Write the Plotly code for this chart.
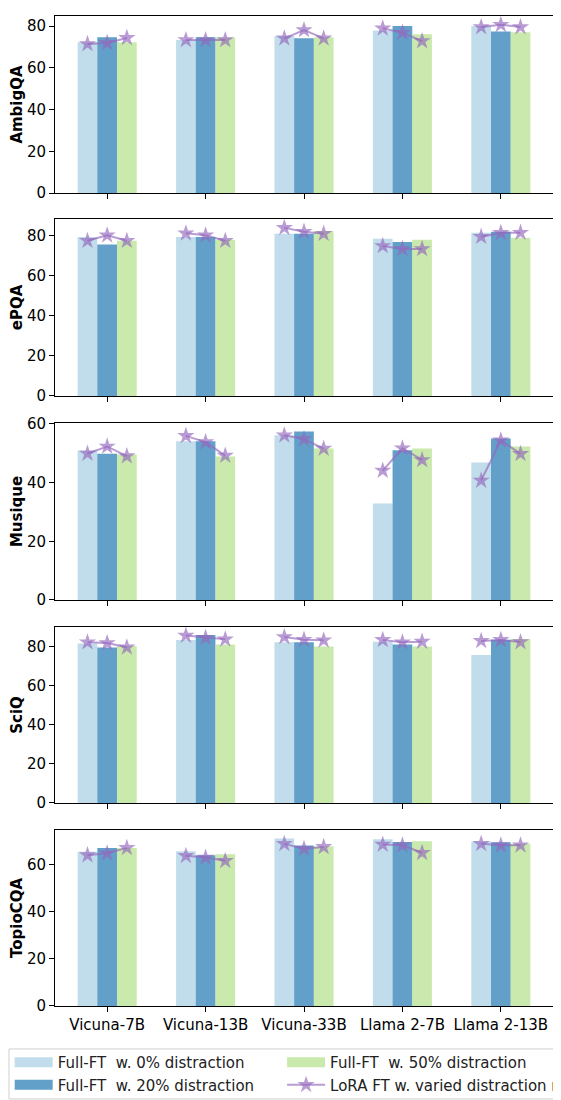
import plotly.graph_objects as go
from plotly.subplots import make_subplots

models = ["Vicuna-7B", "Vicuna-13B", "Vicuna-33B", "Llama 2-7B", "Llama 2-13B"]
datasets = ["AmbigQA", "ePQA", "Musique", "SciQ", "TopioCQA"]

# Full-FT with 0% distraction
ft0 = {
    "AmbigQA": [72.2, 73.3, 75.2, 77.9, 80.0],
    "ePQA": [79.2, 79.2, 80.8, 78.3, 81.3],
    "Musique": [50.9, 54.1, 56.1, 32.9, 46.8],
    "SciQ": [81.7, 83.6, 82.4, 82.7, 75.9],
    "TopioCQA": [65.5, 65.8, 71.2, 70.9, 69.9],
}
# Full-FT with 20% distraction
ft20 = {
    "AmbigQA": [74.6, 74.6, 74.1, 80.0, 77.4],
    "ePQA": [75.4, 79.2, 80.8, 76.7, 81.8],
    "Musique": [49.8, 54.1, 57.4, 51.0, 55.0],
    "SciQ": [79.7, 86.1, 82.4, 81.2, 83.7],
    "TopioCQA": [67.1, 64.1, 68.2, 69.7, 69.6],
}
# Full-FT with 50% distraction
ft50 = {
    "AmbigQA": [72.2, 74.5, 74.6, 76.0, 77.0],
    "ePQA": [77.3, 77.8, 82.2, 77.8, 78.8],
    "Musique": [49.6, 48.9, 51.6, 51.6, 52.3],
    "SciQ": [80.5, 81.2, 80.2, 80.2, 84.1],
    "TopioCQA": [67.1, 64.5, 67.9, 70.0, 68.9],
}
# LoRA FT: (0%, 20%, 50%) per model
lora = {
    "AmbigQA": [[71.4, 71.9, 74.3], [73.3, 73.3, 73.3], [74.1, 78.1, 74.1], [78.9, 76.8, 72.8], [79.5, 80.6, 79.5]],
    "ePQA": [[77.3, 80.0, 77.3], [81.0, 80.0, 77.3], [83.7, 81.8, 80.8], [74.7, 73.2, 73.2], [79.3, 81.2, 81.3]],
    "Musique": [[49.9, 52.3, 49.0], [55.9, 53.8, 49.2], [56.1, 54.8, 51.6], [44.1, 51.7, 47.7], [40.7, 54.4, 49.8]],
    "SciQ": [[82.4, 82.0, 79.8], [85.8, 84.7, 83.9], [85.1, 83.7, 83.4], [83.6, 82.4, 82.7], [83.1, 83.6, 82.5]],
    "TopioCQA": [[64.1, 64.9, 67.2], [63.8, 63.1, 61.7], [68.9, 66.8, 67.6], [68.6, 68.3, 65.1], [68.9, 68.3, 68.3]],
}
yticks = {
    "AmbigQA": [0, 20, 40, 60, 80],
    "ePQA": [0, 20, 40, 60, 80],
    "Musique": [0, 20, 40, 60],
    "SciQ": [0, 20, 40, 60, 80],
    "TopioCQA": [0, 20, 40, 60],
}
ymax = {"AmbigQA": 84.8, "ePQA": 88.1, "Musique": 60.3, "SciQ": 90.2, "TopioCQA": 74.8}

labels = ["Full-FT\u00a0 w. 0% distraction", "Full-FT\u00a0 w. 20% distraction",
          "Full-FT\u00a0 w. 50% distraction", "LoRA FT w. varied distraction ratio"]
colors = ["rgba(166,206,227,0.7)", "rgba(31,120,180,0.7)", "rgba(178,223,138,0.7)"]
star_color = "rgba(148,103,189,0.65)"
legend_of = ["legend", "legend", "legend2", "legend2"]
legend_rank = [1, 2, 1, 2]

W = 0.2
offsets = [-W, 0.0, W]

domains = [(0.8212, 1.0), (0.6162, 0.7949), (0.4101, 0.5889), (0.2051, 0.3828), (0.0, 0.1778)]

fig = make_subplots(rows=5, cols=1)
idx = list(range(len(models)))
font = "DejaVu Sans, sans-serif"
FS = 15

for r, ds in enumerate(datasets, start=1):
    for k, series in enumerate([ft0, ft20, ft50]):
        fig.add_trace(go.Bar(
            x=[i + offsets[k] for i in idx], y=series[ds], width=W,
            marker=dict(color=colors[k], line=dict(width=0)),
            name=labels[k], legendgroup=labels[k], showlegend=False,
        ), row=r, col=1)
    xs, ys = [], []
    for i in idx:
        for k in range(3):
            xs.append(i + offsets[k])
            ys.append(lora[ds][i][k])
        xs.append(None)
        ys.append(None)
    fig.add_trace(go.Scatter(
        x=xs, y=ys, mode="lines+markers", connectgaps=False,
        line=dict(color=star_color, width=2),
        marker=dict(symbol="star", size=13, color=star_color, line=dict(width=0)),
        name=labels[3], legendgroup=labels[3], legend=legend_of[3],
        legendrank=legend_rank[3], showlegend=(r == 1),
    ), row=r, col=1)

    ax = "" if r == 1 else str(r)
    fig.layout["xaxis" + ax].update(
        domain=[0, 1], range=[-0.53, 4.53], tickmode="array", tickvals=idx,
        ticktext=models, showticklabels=(r == 5), ticks="outside", ticklen=5,
        tickcolor="black", showline=True, linecolor="black", linewidth=1,
        mirror=True, showgrid=False, zeroline=False,
        tickfont=dict(size=FS, color="black", family=font),
    )
    fig.layout["yaxis" + ax].update(
        domain=list(domains[r - 1]), range=[0, ymax[ds]], tickmode="array",
        tickvals=yticks[ds], ticks="outside", ticklen=5, tickcolor="black",
        showline=True, linecolor="black", linewidth=1, mirror=True,
        showgrid=False, zeroline=False,
        tickfont=dict(size=FS, color="black", family=font),
        title=dict(text="<b>" + ds + "</b>", standoff=12,
                   font=dict(size=15, color="black", family=font)),
    )

# legend swatches for the bar series (wide patches like the original)
for k in range(3):
    fig.add_trace(go.Scatter(
        x=[None], y=[None], mode="lines",
        line=dict(color=colors[k], width=10),
        name=labels[k], legendgroup=labels[k], legend=legend_of[k],
        legendrank=legend_rank[k], showlegend=True, hoverinfo="skip",
    ))

leg_common = dict(
    orientation="v", yanchor="top", y=-0.0405, xanchor="left",
    borderwidth=0, bgcolor="rgba(0,0,0,0)", tracegroupgap=2, itemwidth=38,
    font=dict(size=15, color="#222222", family=font), traceorder="normal",
)
fig.update_layout(
    width=553, height=1092, barmode="overlay",
    margin=dict(l=47, r=8, t=8, b=94, autoexpand=False),
    plot_bgcolor="white", paper_bgcolor="white",
    font=dict(family=font, size=FS, color="black"),
    legend=dict(x=-0.091, **leg_common),
    legend2=dict(x=0.456, **leg_common),
)
# legend frame
fig.add_shape(type="rect", xref="paper", yref="paper",
              x0=-0.0924, x1=1.2, y0=-0.0939, y1=-0.0434,
              line=dict(color="#d0d0d0", width=1), fillcolor="rgba(0,0,0,0)")

fig.write_html("out.html")
